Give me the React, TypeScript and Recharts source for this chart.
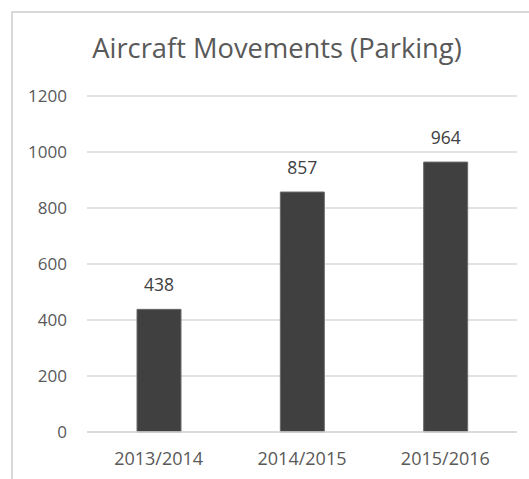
import React from "react";
import { BarChart, Bar, XAxis, YAxis, CartesianGrid, LabelList } from "recharts";

const categories = ["2013/2014", "2014/2015", "2015/2016"];
const movements = [438, 857, 964];
const yTicks = [0, 200, 400, 600, 800, 1000, 1200];
const title = "Aircraft Movements (Parking)";

const data = categories.map((c, i) => ({ season: c, value: movements[i] }));

const FONT = "'Open Sans', sans-serif";

export default function App() {
  return (
    <div style={{ position: "absolute", left: 0, top: 0, width: 529, height: 479, background: "#fff", fontFamily: FONT }}>
      <div
        style={{
          position: "absolute",
          left: 11,
          top: 11,
          width: 518,
          height: 468,
          borderLeft: "2px solid #d9d9d9",
          borderTop: "2px solid #d9d9d9",
        }}
      />
      <svg width={529} height={479} style={{ position: "absolute", left: 0, top: 0 }}>
        <text x={277} y={58} textAnchor="middle" fontFamily={FONT} fontSize={27.3} fill="#595959">
          {title}
        </text>
      </svg>
      <div style={{ position: "absolute", left: 0, top: 0 }}>
        <BarChart width={529} height={479} data={data} margin={{ top: 96, right: 12, left: 0, bottom: 0 }}>
          <CartesianGrid vertical={false} stroke="#d9d9d9" strokeWidth={1.5} />
          <XAxis
            dataKey="season"
            height={47}
            axisLine={{ stroke: "#d9d9d9", strokeWidth: 1.5 }}
            tickLine={false}
            tickSize={0}
            tickMargin={20}
            tick={{ fill: "#595959", fontSize: 18, fontFamily: FONT }}
          />
          <YAxis
            width={87}
            domain={[0, 1200]}
            ticks={yTicks}
            axisLine={false}
            tickLine={false}
            tickSize={0}
            tickMargin={20}
            tick={{ fill: "#595959", fontSize: 17, fontFamily: FONT }}
          />
          <Bar dataKey="value" fill="#404040" stroke="#6a6a6a" strokeWidth={1} barSize={44} isAnimationActive={false}>
            <LabelList dataKey="value" position="top" offset={18} fill="#404040" fontSize={17.5} fontFamily={FONT} />
          </Bar>
        </BarChart>
      </div>
    </div>
  );
}
